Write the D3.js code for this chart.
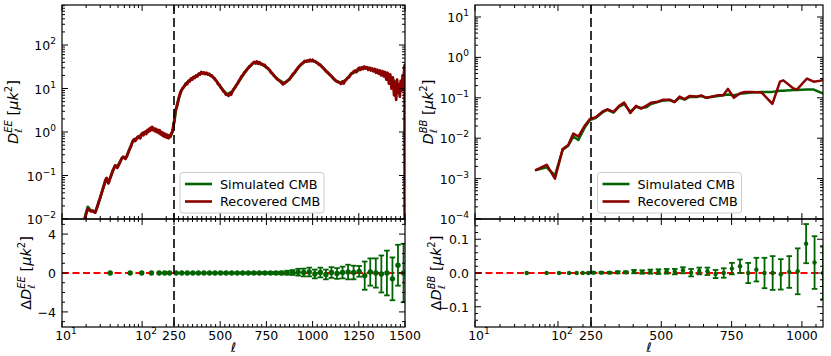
<!DOCTYPE html>
<html>
<head>
<meta charset="utf-8">
<script src="https://cdn.jsdelivr.net/npm/d3@7"></script>
<style>
  body { margin: 0; background: #fff; }
  svg { font-family: "DejaVu Sans", sans-serif; display: block; }
</style>
</head>
<body>
<svg width="831" height="356"></svg>
<script>
"use strict"

/* ---- data ---- */

// EE spectrum, recovered CMB [ell, D_ell]
let eeRec = [[18,0.0065],[19,0.009],[20,0.013],[21,0.017],[22,0.016],[23,0.015],[24,0.0155],[25,0.0145],[26,0.014],[27,0.017],[28,0.021],[29,0.026],[30,0.031],[31,0.038],[32,0.046],[33,0.055],[34,0.068],[35,0.08],[36,0.088],[37,0.074],[38,0.066],[39,0.075],[40,0.09],[41,0.1],[42,0.115],[43,0.13],[44,0.14],[45,0.155],[46,0.17],[47,0.165],[48,0.158],[49,0.15],[50,0.16],[52,0.19],[54,0.22],[56,0.25],[58,0.27],[60,0.255],[62,0.24],[64,0.27],[66,0.31],[68,0.36],[70,0.41],[72,0.45],[74,0.52],[76,0.6],[78,0.66],[80,0.68],[82,0.62],[84,0.66],[86,0.73],[88,0.78],[90,0.74],[92,0.8],[95,0.72],[98,0.88],[101,0.95],[104,0.84],[107,0.98],[110,1.02],[113,0.9],[116,1.1],[119,1.0],[122,1.18],[125,1.06],[128,1.25],[131,1.12],[134,1.3],[137,1.1],[140,1.22],[144,1.05],[148,1.18],[152,1.0],[156,1.12],[160,0.95],[165,1.1],[170,0.88],[175,1.0],[180,0.82],[185,0.95],[190,0.78],[196,0.9],[202,0.74],[208,0.86],[214,0.72],[220,0.82],[226,0.78],[232,0.95],[238,1.0],[244,1.2],[248,1.5],[252,1.9],[256,2.8],[260,3.3],[265,3.8],[270,4.6],[275,5.8],[280,7.0],[285,8.2],[290,9.0],[295,10],[300,10.5],[307,11.5],[314,13],[321,12.5],[328,15],[335,14.5],[342,17],[349,16],[356,18.5],[363,17.5],[370,20],[377,19],[384,22],[391,21],[398,24],[405,22],[412,23.5],[419,21.5],[426,23],[433,21],[440,22],[447,19.5],[454,20],[461,18],[468,17.5],[475,15.5],[482,14.5],[489,12.5],[496,12],[503,10.5],[510,9.8],[517,8.6],[524,8.2],[531,7.2],[538,7.4],[545,6.8],[552,7.8],[559,7.2],[566,8.6],[573,9.8],[580,10.5],[587,12],[594,13],[601,15],[608,16.5],[615,19],[622,20],[629,23],[636,24.5],[643,27],[650,29],[657,32],[664,33],[671,36],[678,39],[685,41],[692,38],[699,42],[706,37],[713,40],[720,36],[727,37],[734,34],[741,35],[748,31],[755,30],[762,28],[769,26],[776,23],[783,22],[790,20],[797,18.5],[804,17],[811,16],[818,15.5],[825,14.5],[832,13.5],[839,12.5],[846,13],[853,13.8],[860,14.5],[867,15.5],[874,16.2],[881,18],[888,20],[895,22],[902,23],[909,26],[916,28],[923,31],[930,33],[937,36],[944,38],[951,40],[958,43],[965,41],[972,44],[979,42],[986,46],[993,43],[1000,46],[1007,42],[1014,42],[1021,39],[1028,38],[1035,35],[1042,35],[1049,32],[1056,30],[1063,28],[1070,26],[1077,24],[1084,23],[1091,21],[1098,20],[1105,18.5],[1112,17],[1119,16],[1126,15],[1133,14.5],[1140,14],[1147,13.5],[1154,12.8],[1161,14.5],[1168,13],[1175,15],[1182,16],[1189,17.5],[1196,18],[1203,20],[1210,22],[1217,23],[1224,25],[1231,26],[1238,24],[1245,28],[1252,30],[1259,27],[1266,31],[1273,28],[1280,32],[1287,29],[1294,31],[1301,27],[1308,30],[1315,26],[1322,29],[1329,25],[1336,28],[1343,23],[1350,27],[1357,22],[1364,26],[1371,20],[1378,25],[1385,19],[1392,24],[1399,16],[1406,23],[1413,13],[1420,21],[1427,10],[1434,18],[1441,7],[1448,14],[1452,5.5],[1457,16],[1462,8],[1467,12],[1472,6.5],[1477,15],[1482,9],[1487,20],[1492,10],[1496,30],[1499,35],[1500,0.0005]]

// EE spectrum, simulated CMB [ell, D_ell]
let eeSim = [[18,0.0065],[19,0.0095],[20,0.014],[21,0.019],[22,0.017],[23,0.0155],[24,0.0155],[25,0.015],[26,0.0145],[28,0.021],[30,0.031],[33,0.055],[36,0.085],[38,0.07],[40,0.088],[44,0.14],[46,0.168],[48,0.16],[52,0.19],[56,0.25],[60,0.26],[64,0.27],[70,0.41],[76,0.6],[80,0.67],[86,0.72],[92,0.78],[101,0.92],[110,1.0],[122,1.12],[134,1.2],[148,1.12],[165,1.02],[185,0.9],[208,0.8],[226,0.8],[238,0.98],[248,1.6],[252,1.75],[260,3.2],[275,5.8],[290,9],[314,12.8],[342,16.5],[370,19.5],[398,23],[426,22],[454,19.8],[482,14.5],[510,9.8],[538,7.3],[566,8.5],[594,13],[622,20],[650,29],[678,38.5],[706,39],[734,34.5],[762,28],[790,20],[818,15.5],[846,13.2],[874,16.2],[902,23],[930,33],[958,42],[986,44],[1014,42],[1042,35],[1070,26],[1098,20],[1126,15],[1154,13.5],[1182,16],[1210,22],[1238,25],[1266,29],[1294,30],[1322,28],[1350,25.5],[1378,23],[1406,20],[1434,16],[1462,12],[1492,14],[1499,33],[1500,0.0005]]

// BB spectrum [ell, D_ell]
let bbRec = [[53,0.0016],[73,0.0022],[92,0.0010],[114,0.0054],[133,0.0068],[153,0.013],[176,0.011],[212,0.021],[243,0.030],[267,0.033],[294,0.047],[308,0.052],[330,0.045],[350,0.063],[368,0.076],[390,0.042],[410,0.063],[428,0.054],[446,0.063],[463,0.075],[487,0.080],[505,0.089],[529,0.09],[547,0.078],[565,0.107],[583,0.093],[600,0.11],[624,0.107],[642,0.115],[660,0.10],[678,0.107],[702,0.115],[720,0.115],[737,0.166],[758,0.10],[780,0.13],[797,0.14],[821,0.14],[857,0.135],[895,0.071],[922,0.25],[934,0.27],[970,0.17],[982,0.16],[1018,0.30],[1042,0.25],[1072,0.27],[1075,0.30]]
let bbSim = [[53,0.0016],[73,0.0019],[92,0.0012],[114,0.0052],[133,0.0065],[153,0.011],[176,0.009],[212,0.019],[243,0.028],[267,0.032],[294,0.045],[308,0.05],[330,0.043],[350,0.06],[368,0.07],[390,0.045],[410,0.06],[428,0.056],[446,0.058],[463,0.07],[487,0.078],[505,0.085],[529,0.088],[547,0.08],[565,0.1],[583,0.09],[600,0.105],[624,0.105],[642,0.11],[660,0.1],[678,0.105],[702,0.11],[720,0.115],[737,0.12],[758,0.115],[780,0.125],[797,0.13],[821,0.135],[857,0.14],[895,0.14],[922,0.15],[934,0.15],[970,0.155],[982,0.155],[1018,0.16],[1042,0.16],[1072,0.13],[1075,0.13]]

// binned residuals: ell, delta D, error
let eeBins  = [40,71,99,131,163,191,220,262,292,322,352,382,412,442,472,502,532,562,592,622,652,682,712,742,772,802,832,862,892,922,952,982,1012,1042,1072,1102,1132,1162,1192,1222,1252,1282,1312,1342,1372,1402,1432,1462,1492]
let eeDelta = [0,0,0,0,0,0,0,0,0,0,0,0,0,0,0,0,0,0,0,0,0,0,0,0,0,0,0,0.03,0.05,0.08,0.05,0.1,-0.1,0.05,-0.15,0.05,-0.05,0.05,0.1,0.05,0.17,-0.27,0.1,0,-0.1,0,-0.6,0.8,0]
let eeErr   = [0,0,0,0,0,0,0,0.01,0.01,0.01,0.02,0.02,0.02,0.03,0.03,0.04,0.04,0.05,0.05,0.06,0.06,0.07,0.08,0.09,0.1,0.12,0.14,0.2,0.25,0.35,0.4,0.45,0.45,0.5,0.5,0.55,0.55,0.6,0.75,0.7,0.55,1.45,1.4,1.5,1.9,2.3,2.2,2.1,3.0]

let bbBins  = [42,73,103,136,168,199,232,258,287,316,345,374,403,432,461,490,519,548,577,606,635,664,693,722,751,780,809,838,867,896,925,955,985,1015,1045,1075]
let bbDelta = [0,0,0,0,0,0,0,0.001,0.001,0.001,0.002,0.002,0.004,0.003,0.004,0.004,0.005,0.004,0.008,0.001,0.006,0.005,-0.003,0,0.013,0.02,0,0.01,0,0,-0.004,0.003,0.005,0.087,0.031,0]
let bbErr   = [0,0,0,0,0,0,0,0.002,0.002,0.002,0.003,0.003,0.005,0.005,0.006,0.007,0.007,0.008,0.009,0.011,0.01,0.011,0.012,0.014,0.017,0.02,0.03,0.035,0.045,0.05,0.045,0.047,0.068,0.058,0.078,0.078]

// tick labels
let linTicksEE = [250, 500, 750, 1000, 1250, 1500]
let linTicksBB = [250, 500, 750, 1000]

const green = "#006400"
const red = "#8b0000"
const tickFont = 12.5

let svg = d3.select("svg")

/* mixed axis: log from 10 to 250, linear above */
function mixedX(x0, xs, x1, lmax) {
  let lg = d3.scaleLog().domain([10, 250]).range([x0, xs])
  let ln = d3.scaleLinear().domain([250, lmax]).range([xs, x1])
  let f = l => l <= 250 ? lg(l) : ln(l)
  return f
}

function supText(sel, base, exp) {
  sel.text(base)
  sel.append("tspan").attr("dy", -6).attr("font-size", 9).text(exp)
}

function logLabel(d) {
  let e = Math.round(Math.log10(d))
  return e < 0 ? "\u2212" + (-e) : "" + e
}

function yLabel(g, x, y, delta, sup) {
  let t = g.append("text")
    .attr("transform", "translate(" + x + "," + y + ") rotate(-90)")
    .attr("text-anchor", "middle")
    .attr("font-size", 14.5)
  if (delta) t.append("tspan").text("\u0394")
  t.append("tspan").attr("font-style", "italic").text("D")
  let s = t.append("tspan").attr("font-style", "italic").attr("font-size", 10).attr("dy", -6.5).text(sup)
  let sw = s.node().getComputedTextLength()
  let b = t.append("tspan").attr("font-style", "italic").attr("font-size", 10).attr("dx", -sw).attr("dy", 10).text("\u2113")
  let bw = b.node().getComputedTextLength()
  t.append("tspan").attr("dx", Math.max(0, sw - bw)).attr("dy", -3.5).text(" [")
  t.append("tspan").attr("font-style", "italic").text("\u03bck")
  t.append("tspan").attr("font-size", 10).attr("dy", -6.5).text("2")
  t.append("tspan").attr("dy", 6.5).text("]")
}

function xTickSet(lmax, step, majorsLin) {
  let major = [10, 100].concat(majorsLin)
  let minor = [20, 30, 40, 50, 60, 70, 80, 90, 200]
  for (let v = 250 + step; v <= lmax; v += step) {
    if (!majorsLin.includes(v)) minor.push(v)
  }
  return {major, minor}
}

function drawXTicks(g, x, ts, yLine, dir) {
  g.selectAll(null).data(ts.major).enter().append("line")
    .attr("x1", d => x(d)).attr("x2", d => x(d))
    .attr("y1", yLine).attr("y2", yLine + dir * 6)
  g.selectAll(null).data(ts.minor).enter().append("line")
    .attr("x1", d => x(d)).attr("x2", d => x(d))
    .attr("y1", yLine).attr("y2", yLine + dir * 3)
}

function drawYTicks(g, y, major, minor, x0, x1) {
  [[x0, 1], [x1, -1]].forEach(([xl, dir]) => {
    g.selectAll(null).data(major).enter().append("line")
      .attr("x1", xl).attr("x2", xl + dir * 6)
      .attr("y1", d => y(d)).attr("y2", d => y(d))
    g.selectAll(null).data(minor).enter().append("line")
      .attr("x1", xl).attr("x2", xl + dir * 3)
      .attr("y1", d => y(d)).attr("y2", d => y(d))
  })
}

function logMinor(lo, hi) {
  let out = []
  for (let e = Math.floor(Math.log10(lo)); e <= Math.ceil(Math.log10(hi)); e++) {
    for (let k = 2; k <= 9; k++) {
      let v = k * Math.pow(10, e)
      if (v > lo && v < hi) out.push(v)
    }
  }
  return out
}

function panel(cfg) {
  let x = mixedX(cfg.x0, cfg.xs, cfg.x1, cfg.lmax)
  let yT = d3.scaleLog().domain(cfg.yTopDomain).range([cfg.yMid, cfg.yTop])
  let yB = d3.scaleLinear().domain(cfg.yBotDomain).range([cfg.yBot, cfg.yMid])
  let g = svg.append("g")
  let id = cfg.id

  let defs = svg.append("defs")
  defs.append("clipPath").attr("id", id + "t").append("rect")
    .attr("x", cfg.x0).attr("y", cfg.yTop).attr("width", cfg.x1 - cfg.x0).attr("height", cfg.yMid - cfg.yTop)
  defs.append("clipPath").attr("id", id + "b").append("rect")
    .attr("x", cfg.x0).attr("y", cfg.yMid).attr("width", cfg.x1 - cfg.x0).attr("height", cfg.yBot - cfg.yMid)

  // top spectrum
  let line = d3.line().x(d => x(d[0])).y(d => yT(d[1]))
  let top = g.append("g").attr("clip-path", "url(#" + id + "t)")
  top.append("path").datum(cfg.sim).attr("d", line)
    .attr("fill", "none").attr("stroke", green).attr("stroke-width", cfg.lw).attr("stroke-linejoin", "round")
  top.append("path").datum(cfg.rec).attr("d", line)
    .attr("fill", "none").attr("stroke", red).attr("stroke-width", cfg.lw).attr("stroke-linejoin", "round")

  // residuals
  let bot = g.append("g").attr("clip-path", "url(#" + id + "b)")
  bot.append("line")
    .attr("x1", cfg.x0).attr("x2", cfg.x1).attr("y1", yB(0)).attr("y2", yB(0))
    .attr("stroke", "#ff0000").attr("stroke-width", 1.8).attr("stroke-dasharray", "7,3.5")
  let pts = cfg.bins.map((l, i) => ({l, d: cfg.delta[i], e: cfg.err[i]}))
  let eb = bot.selectAll(".eb").data(pts.filter(p => p.e > 0)).enter().append("g")
    .attr("stroke", green).attr("stroke-width", 1.8)
  eb.append("line").attr("x1", p => x(p.l)).attr("x2", p => x(p.l))
    .attr("y1", p => yB(p.d - p.e)).attr("y2", p => yB(p.d + p.e))
  eb.append("line").attr("x1", p => x(p.l) - 2.8).attr("x2", p => x(p.l) + 2.8)
    .attr("y1", p => yB(p.d - p.e)).attr("y2", p => yB(p.d - p.e))
  eb.append("line").attr("x1", p => x(p.l) - 2.8).attr("x2", p => x(p.l) + 2.8)
    .attr("y1", p => yB(p.d + p.e)).attr("y2", p => yB(p.d + p.e))
  bot.selectAll(".pt").data(pts).enter().append("circle")
    .attr("cx", p => x(p.l)).attr("cy", p => yB(p.d)).attr("r", cfg.r).attr("fill", green)

  // vertical split line at 250
  g.append("line").attr("x1", x(250)).attr("x2", x(250))
    .attr("y1", cfg.yTop).attr("y2", cfg.yBot)
    .attr("stroke", "#000").attr("stroke-width", 1.6).attr("stroke-dasharray", "9,4")

  // ticks
  let tk = g.append("g").attr("stroke", "#000").attr("stroke-width", 1)
  let xt = xTickSet(cfg.lmax, cfg.minorStep, cfg.linTicks)
  drawXTicks(tk, x, xt, cfg.yTop, 1)
  drawXTicks(tk, x, xt, cfg.yMid, -1)
  drawXTicks(tk, x, xt, cfg.yMid, 1)
  drawXTicks(tk, x, xt, cfg.yBot, -1)
  let topMajor = []
  for (let e = Math.ceil(Math.log10(cfg.yTopDomain[0]) - 1e-9); e <= Math.log10(cfg.yTopDomain[1]); e++) topMajor.push(Math.pow(10, e))
  drawYTicks(tk, yT, topMajor, logMinor(cfg.yTopDomain[0], cfg.yTopDomain[1]), cfg.x0, cfg.x1)
  drawYTicks(tk, yB, cfg.botMajor, cfg.botMinor, cfg.x0, cfg.x1)

  // frames
  g.append("rect").attr("x", cfg.x0).attr("y", cfg.yTop).attr("width", cfg.x1 - cfg.x0).attr("height", cfg.yMid - cfg.yTop)
    .attr("fill", "none").attr("stroke", "#000").attr("stroke-width", 1.2)
  g.append("rect").attr("x", cfg.x0).attr("y", cfg.yMid).attr("width", cfg.x1 - cfg.x0).attr("height", cfg.yBot - cfg.yMid)
    .attr("fill", "none").attr("stroke", "#000").attr("stroke-width", 1.2)

  // tick labels
  let lab = g.append("g").attr("font-size", tickFont).attr("fill", "#000")
  lab.selectAll(null).data(topMajor).enter().append("text")
    .attr("x", cfg.x0 - 6).attr("y", d => yT(d) + 5).attr("text-anchor", "end")
    .each(function (d) { supText(d3.select(this), "10", logLabel(d)) })
  lab.selectAll(null).data(cfg.botMajor).enter().append("text")
    .attr("x", cfg.x0 - 6).attr("y", d => yB(d) + 5).attr("text-anchor", "end")
    .text(d => cfg.botFmt(d))
  lab.selectAll(null).data([10, 100]).enter().append("text")
    .attr("x", d => x(d) + 4).attr("y", cfg.yBot + 13).attr("text-anchor", "middle")
    .each(function (d) { supText(d3.select(this), "10", logLabel(d)) })
  lab.selectAll(null).data(cfg.linTicks).enter().append("text")
    .attr("x", d => x(d)).attr("y", cfg.yBot + 13).attr("text-anchor", "middle")
    .text(d => d)

  g.append("text").attr("x", (cfg.x0 + cfg.x1) / 2).attr("y", cfg.yBot + 25)
    .attr("text-anchor", "middle").attr("font-size", 13).attr("font-style", "italic").text("\u2113")

  yLabel(g, cfg.labTopX, (cfg.yTop + cfg.yMid) / 2, false, cfg.sup)
  yLabel(g, cfg.labBotX, (cfg.yMid + cfg.yBot) / 2, true, cfg.sup)

  // legend
  let lg = g.append("g").attr("transform", "translate(" + cfg.legX + "," + cfg.legY + ")")
  lg.append("rect").attr("width", 144).attr("height", 40.5).attr("rx", 3)
    .attr("fill", "#fff").attr("fill-opacity", 0.8).attr("stroke", "#cccccc").attr("stroke-width", 1)
  ;[["Simulated CMB", green], ["Recovered CMB", red]].forEach(([name, c], i) => {
    let yy = 11.5 + i * 17.5
    lg.append("line").attr("x1", 5).attr("x2", 32).attr("y1", yy).attr("y2", yy)
      .attr("stroke", c).attr("stroke-width", 2.6)
    lg.append("text").attr("x", 40).attr("y", yy + 4.5).attr("font-size", 12.8).text(name)
  })
}

panel({
  id: "ee", x0: 62, xs: 174, x1: 405, lmax: 1500, minorStep: 25, linTicks: linTicksEE,
  yTop: 5, yMid: 219, yBot: 327,
  yTopDomain: [1e-2, 832], yBotDomain: [-5.55, 5.55],
  botMajor: [-4, 0, 4], botMinor: [-5, -3, -2, -1, 1, 2, 3, 5],
  botFmt: d => d < 0 ? "\u2212" + (-d) : "" + d,
  rec: eeRec, sim: eeSim, lw: 2.8,
  bins: eeBins, delta: eeDelta, err: eeErr, r: 2.7,
  sup: "EE", labTopX: 18, labBotX: 31, legX: 180, legY: 172.5
})

panel({
  id: "bb", x0: 475, xs: 591, x1: 823, lmax: 1075, minorStep: 50, linTicks: linTicksBB,
  yTop: 5, yMid: 219, yBot: 327,
  yTopDomain: [1e-4, 19.8], yBotDomain: [-0.16, 0.16],
  botMajor: [-0.1, 0, 0.1], botMinor: [-0.14, -0.12, -0.08, -0.06, -0.04, -0.02, 0.02, 0.04, 0.06, 0.08, 0.12, 0.14],
  botFmt: d => d < 0 ? "\u2212" + (-d).toFixed(1) : d.toFixed(1),
  rec: bbRec, sim: bbSim, lw: 2.5,
  bins: bbBins, delta: bbDelta, err: bbErr, r: 2.2,
  sup: "BB", labTopX: 433, labBotX: 441, legX: 597.5, legY: 172.5
})
</script>
</body>
</html>
